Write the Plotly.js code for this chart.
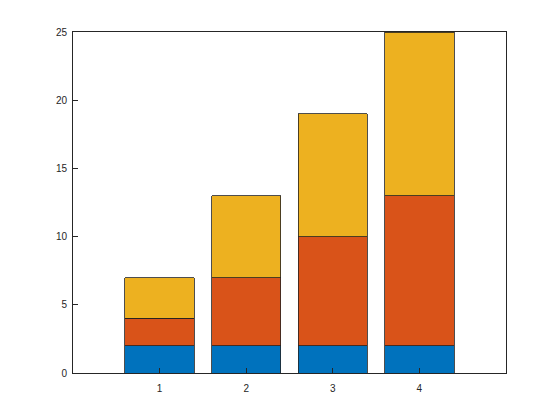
<!DOCTYPE html>
<html><head><meta charset="utf-8">
<script src="https://cdn.plot.ly/plotly-3.0.1.min.js"></script>
<style>body{margin:0;background:#fff}#c{width:560px;height:420px}</style>
</head><body><div id="c"></div>
<script>
const categories = [1, 2, 3, 4];
const seriesA = [2, 2, 2, 2];
const seriesB = [2, 5, 8, 11];
const seriesC = [3, 6, 9, 12];
const xTicks = [1, 2, 3, 4];
const yTicks = [0, 5, 10, 15, 20, 25];

const colors = ['#0072BD', '#D95319', '#EDB120'];
const traces = [seriesA, seriesB, seriesC].map((v, i) => ({
  type: 'bar', x: categories, y: v, width: 0.8,
  marker: {color: colors[i], line: {color: '#222', width: 0.8}},
  hoverinfo: 'none'
}));

const ax = {
  showgrid: false, zeroline: false, showline: true, mirror: true,
  linecolor: '#262626', linewidth: 1, ticks: 'inside', ticklen: 5,
  tickcolor: '#262626', tickfont: {family: 'Liberation Sans, Arial, sans-serif', size: 10, color: '#262626'}
};
Plotly.newPlot('c', traces, {
  width: 560, height: 420, barmode: 'stack', showlegend: false,
  margin: {l: 73, r: 54, t: 32, b: 47},
  paper_bgcolor: '#fff', plot_bgcolor: '#fff',
  xaxis: Object.assign({}, ax, {range: [0, 5], tickvals: xTicks, ticktext: xTicks.map(String), ticklabelstandoff: 6}),
  yaxis: Object.assign({}, ax, {range: [0, 25], tickvals: yTicks, ticktext: yTicks.map(String), ticklabelstandoff: 3})
}, {staticPlot: true});
</script></body></html>
